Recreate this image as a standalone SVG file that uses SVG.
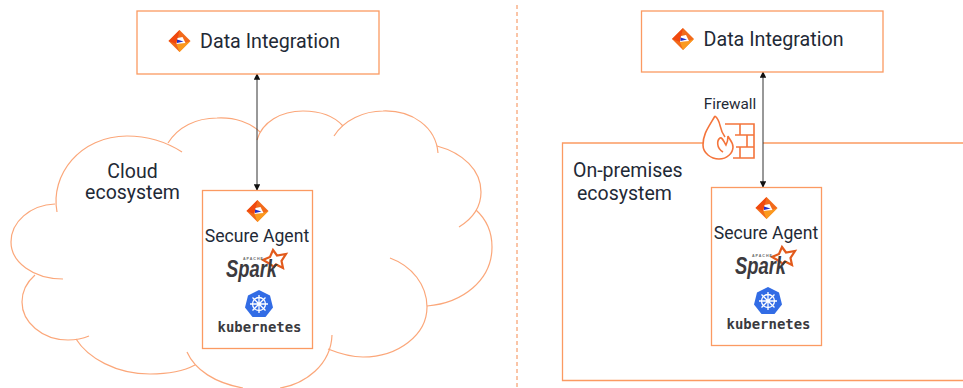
<svg xmlns="http://www.w3.org/2000/svg" width="963" height="388" viewBox="0 0 963 388">
<style>
.box{fill:#fff;stroke:#fb9a62;stroke-width:1.3}
.cl{fill:none;stroke:#fba77a;stroke-width:1.2}
.line{fill:none;stroke:#333;stroke-width:1}
.t{font-family:Roboto,"Liberation Sans",sans-serif;fill:#1f2a36}
.fw{fill:none;stroke:#f4743b;stroke-width:1.6}
</style>
<defs>
<marker id="ah" viewBox="0 0 10 10" refX="9" refY="5" markerWidth="6.5" markerHeight="6.5" orient="auto-start-reverse"><path d="M0 0L10 5L0 10z" fill="#111"/></marker>
<g id="logo">
<path d="M0-11L11 0L0 11L-11 0z" fill="#f26a1b"/>
<path d="M0-11L-11 0L-3 3z" fill="#f0480f"/>
<path d="M-3 3L0 11L11 0L6 2z" fill="#fb9a1e"/>
<path d="M-2-3L-3 3L6 2L3-4z" fill="#fff"/>
<path d="M-2.500-1.500L4 .5L-2.500 2z" fill="#2430c8"/>
</g>
<g id="spark">
<path d="M23-15L27-9.500L36-11L31.500-4L33 3L26-.5L24 2L20-1L13-5L20-8z" fill="none" stroke="#e25a1c" stroke-width="2.200"/>
<text x="-7" y="-5" font-family="Liberation Sans,sans-serif" font-size="3.600" font-weight="700" letter-spacing="1" fill="#666">APACHE</text>
<text x="-24" y="12" font-family="Liberation Sans,sans-serif" font-size="23" font-style="italic" font-weight="700" textLength="51" lengthAdjust="spacingAndGlyphs" fill="#3c3a3e">Spark</text>
</g>
<g id="k8s">
<path d="M0-14L11-8.500L14 3.500L6.500 13H-6.500L-14 3.500L-11-8.500z" fill="#326ce5"/>
<g fill="none" stroke="#fff" stroke-width="1.300">
<circle r="6.500"/>
<path d="M0-9V9M-9 0H9M-6.500-6.500L6.500 6.500M6.500-6.500L-6.500 6.500"/>
</g>
</g>
</defs>

<g id="cloud">
<path class="cl" d="M57 212C50 175 80 136 127 136C148 136 168 143 182 152"/>
<path class="cl" d="M168 143C178 127 196 118 217 118C235 117 251 123 260 132"/>
<path class="cl" d="M257 140C262 122 281 111 303 111C319 111 334 116 343 126"/>
<path class="cl" d="M334 136C344 120 364 111 383 111C412 110 436 127 438 153"/>
<path class="cl" d="M437 146C463 153 481 170 481 192C481 207 472 219 459 227"/>
<path class="cl" d="M476 210C487 220 492 234 492 247C492 280 463 303 427 306"/>
<path class="cl" d="M390 258C412 266 427 285 427 307C427 335 398 357 363 357C350 357 338 353 328 349"/>
<path class="cl" d="M332 335C331 365 305 384 280 388"/>
<path class="cl" d="M243 388C215 383 195 370 187 352"/>
<path class="cl" d="M195 365C182 372 166 374 150 374C116 374 88 358 76 339"/>
<path class="cl" d="M89 336C82 339 75 340 68 340C42 340 22 322 22 302C22 292 27 282 35 275"/>
<path class="cl" d="M63 279C33 279 11 262 11 242C11 222 30 205 55 204"/>
</g>

<g id="on-premises-frame">
<path class="box" style="fill:none" d="M963 143H763M703 143H562.500V380.500H963"/>
</g>
<path id="divider" d="M517 5V388" fill="none" stroke="#f58a4e" stroke-width="1" stroke-dasharray="4 3"/>

<g id="connectors">
<path class="line" d="M257 74V190" marker-start="url(#ah)" marker-end="url(#ah)"/>
<path class="line" d="M763 72V187" marker-start="url(#ah)" marker-end="url(#ah)"/>
</g>

<g id="di-cloud">
<rect class="box" x="137" y="11" width="242" height="63"/>
<use href="#logo" x="179.500" y="41"/>
<text class="t" x="200" y="48" font-size="19.700">Data Integration</text>
</g>
<g id="di-onprem">
<rect class="box" x="641.500" y="11" width="241.500" height="61"/>
<use href="#logo" x="683" y="39"/>
<text class="t" x="703.500" y="46" font-size="19.700">Data Integration</text>
</g>

<g id="cloud-label">
<text class="t" x="132.500" y="178" font-size="19.500" text-anchor="middle">Cloud</text>
<text class="t" x="132.500" y="199" font-size="19.500" text-anchor="middle">ecosystem</text>
</g>
<g id="onprem-label">
<text class="t" x="573" y="177" font-size="19.500">On-premises</text>
<text class="t" x="577" y="200" font-size="19.500">ecosystem</text>
</g>

<g id="agent-cloud">
<rect class="box" x="202.500" y="190.500" width="110" height="158"/>
<use href="#logo" x="257.500" y="211"/>
<text class="t" x="257" y="242" font-size="17.600" text-anchor="middle">Secure Agent</text>
<use href="#spark" x="250" y="265"/>
<use href="#k8s" x="259" y="304"/>
<text x="259.500" y="332" font-family="DejaVu Sans Mono,monospace" font-size="14" font-weight="700" fill="#3a3a3e" text-anchor="middle" textLength="84" lengthAdjust="spacingAndGlyphs">kubernetes</text>
</g>
<g id="agent-onprem">
<rect class="box" x="711.500" y="187.500" width="110" height="158"/>
<use href="#logo" x="766.500" y="208"/>
<text class="t" x="766" y="239" font-size="17.600" text-anchor="middle">Secure Agent</text>
<use href="#spark" x="759" y="262"/>
<use href="#k8s" x="768" y="301"/>
<text x="768.500" y="329" font-family="DejaVu Sans Mono,monospace" font-size="14" font-weight="700" fill="#3a3a3e" text-anchor="middle" textLength="84" lengthAdjust="spacingAndGlyphs">kubernetes</text>
</g>

<g id="firewall">
<text class="t" x="730" y="109" font-size="15.300" text-anchor="middle">Firewall</text>
<path class="fw" d="M715 116C708 128 703 134 703 145C703 153 711 159 719 159C727 159 733 153 733 147C733 142 729 139 728 136C728 140 727 143 726 145C723 140 722 137 720 138C717 140 716 148 723 152"/>
<path class="fw" d="M715 116C722 122 718 128 725 137"/>
<path class="fw" d="M725 124H754V158H733M740 124V135M735 135H754M747 135V147M736 147H754M740 147V158"/>
</g>
</svg>
